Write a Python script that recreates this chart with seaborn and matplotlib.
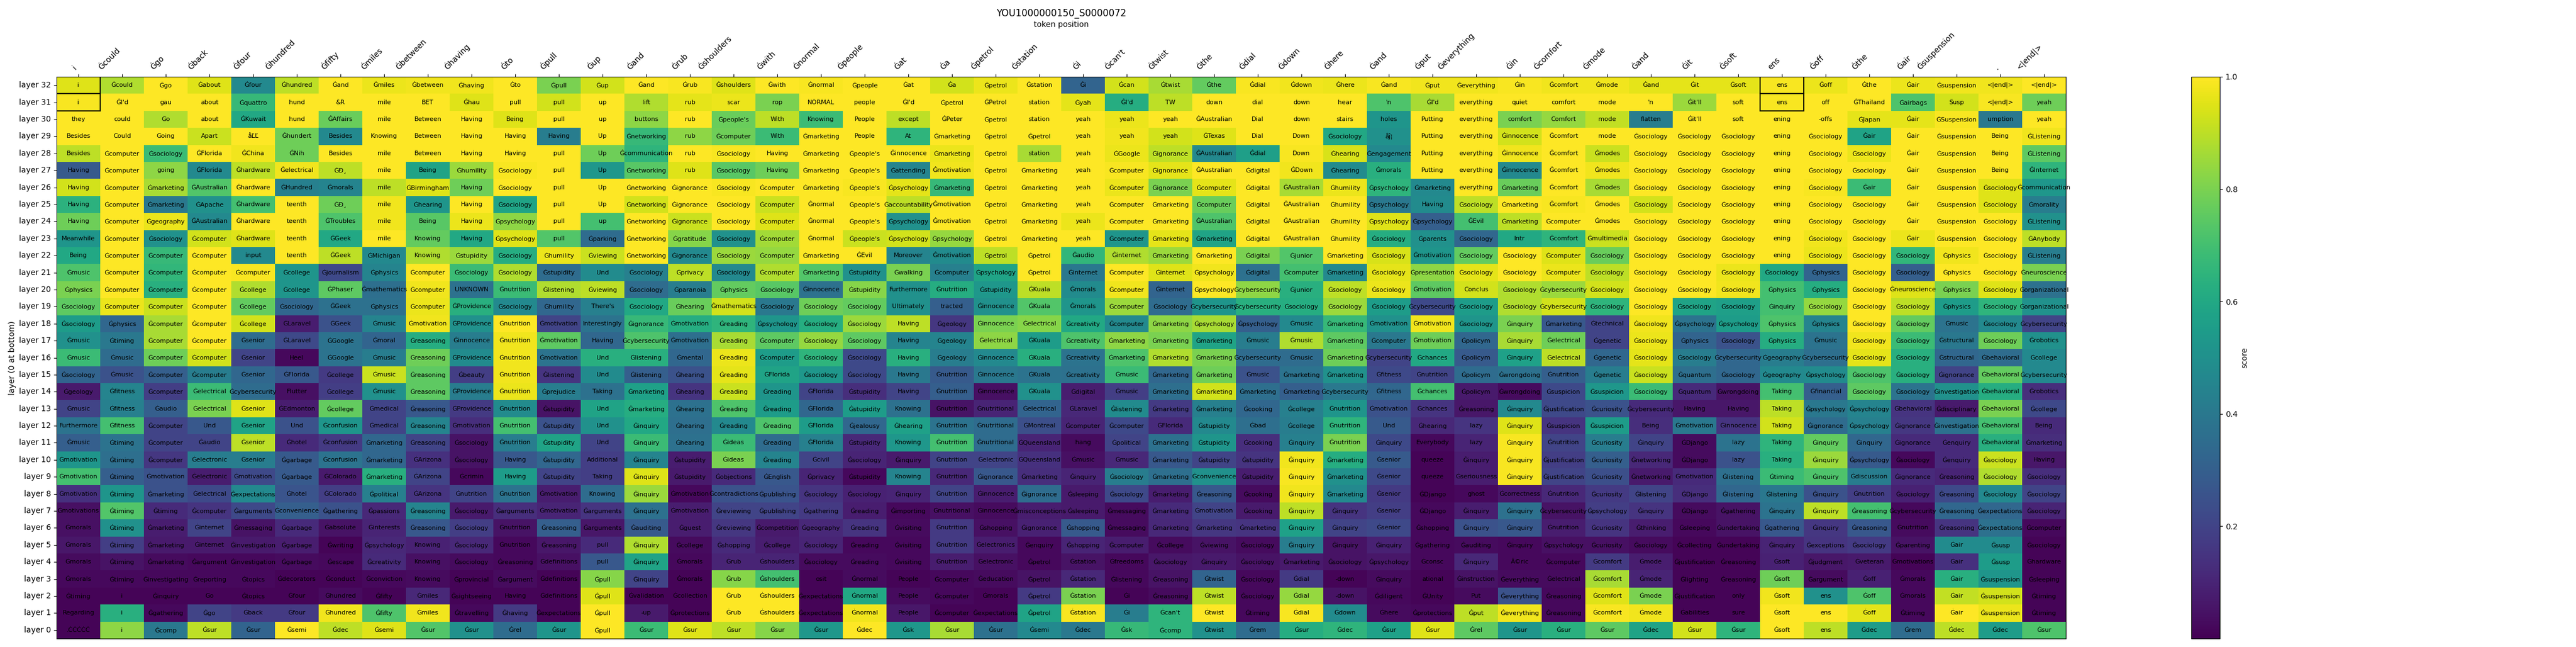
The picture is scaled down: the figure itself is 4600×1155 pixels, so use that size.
import numpy as np
import pandas as pd
import matplotlib
matplotlib.use("Agg")
import matplotlib.pyplot as plt
import seaborn as sns
from matplotlib.patches import Rectangle

TITLE = "YOU1000000150_S0000072"

# tick labels along the top
col_tokens = "i Ġcould Ġgo Ġback Ġfour Ġhundred Ġfifty Ġmiles Ġbetween Ġhaving Ġto Ġpull Ġup Ġand Ġrub Ġshoulders Ġwith Ġnormal Ġpeople Ġat Ġa Ġpetrol Ġstation Ġi Ġcan't Ġtwist Ġthe Ġdial Ġdown Ġhere Ġand Ġput Ġeverything Ġin Ġcomfort Ġmode Ġand Ġit Ġsoft ens Ġoff Ġthe Ġair Ġsuspension . <|end|>".split()

# top token per layer / cell
tok_32 = "i Ġcould Ġgo Ġabout Ġfour Ġhundred Ġand Ġmiles Ġbetween Ġhaving Ġto Ġpull Ġup Ġand Ġrub Ġshoulders Ġwith Ġnormal Ġpeople Ġat Ġa Ġpetrol Ġstation Ġi Ġcan Ġtwist Ġthe Ġdial Ġdown Ġhere Ġand Ġput Ġeverything Ġin Ġcomfort Ġmode Ġand Ġit Ġsoft ens Ġoff Ġthe Ġair Ġsuspension <|end|> <|end|>".split()
tok_31 = "i ĠI'd gau about Ġquattro hund &R mile BET Ġhau pull pull up lift rub scar rop NORMAL people ĠI'd Ġpetrol ĠPetrol station Ġyah ĠI'd TW down dial down hear 'n ĠI'd everything quiet comfort mode 'n Ġit'll soft ens off ĠThailand Ġairbags Susp <|end|> yeah".split()
tok_30 = "they could Go about ĠKuwait hund ĠAffairs mile Between Having Being pull up buttons rub Ġpeople's With Knowing People except ĠPeter Ġpetrol station yeah yeah yeah ĠAustralian Dial down stairs holes Putting everything comfort Comfort mode flatten Ġit'll soft ening -offs ĠJapan Ġair ĠSuspension umption yeah".split()
tok_29 = "Besides Could Going Apart åĽĽ Ġhundert Besides Knowing Between Having Having Having Up Ġnetworking rub Ġcomputer With Ġmarketing People At Ġmarketing Ġpetrol Ġpetrol yeah yeah yeah ĠTexas Dial Down Ġsociology åĵ¦ Putting everything Ġinnocence Ġcomfort mode Ġsociology Ġsociology Ġsociology ening Ġsociology Ġair Ġair Ġsuspension Being ĠListening".split()
tok_28 = "Besides Ġcomputer Ġsociology ĠFlorida ĠChina ĠNih Besides mile Between Having Having pull Up Ġcommunication rub Ġsociology Having Ġmarketing Ġpeople's Ġinnocence Ġmarketing Ġpetrol station yeah ĠGoogle Ġignorance ĠAustralian Ġdial Down Ġhearing Ġengagement Putting everything Ġinnocence Ġcomfort Ġmodes Ġsociology Ġsociology Ġsociology ening Ġsociology Ġsociology Ġair Ġsuspension Being ĠListening".split()
tok_27 = "Having Ġcomputer going ĠFlorida Ġhardware Ġelectrical ĠÐ¸ mile Being Ġhumility Ġsociology pull Up Ġnetworking rub Ġsociology Having Ġmarketing Ġpeople's Ġattending Ġmotivation Ġpetrol Ġmarketing yeah Ġcomputer Ġignorance ĠAustralian Ġdigital ĠDown Ġhearing Ġmorals Putting everything Ġinnocence Ġcomfort Ġmodes Ġsociology Ġsociology Ġsociology ening Ġsociology Ġsociology Ġair Ġsuspension Being ĠInternet".split()
tok_26 = "Having Ġcomputer Ġmarketing ĠAustralian Ġhardware ĠHundred Ġmorals mile ĠBirmingham Having Ġsociology pull Up Ġnetworking Ġignorance Ġsociology Ġcomputer Ġmarketing Ġpeople's Ġpsychology Ġmarketing Ġpetrol Ġmarketing yeah Ġcomputer Ġignorance Ġcomputer Ġdigital ĠAustralian Ġhumility Ġpsychology Ġmarketing everything Ġmarketing Ġcomfort Ġmodes Ġsociology Ġsociology Ġsociology ening Ġsociology Ġair Ġair Ġsuspension Ġsociology Ġcommunication".split()
tok_25 = "Having Ġcomputer Ġmarketing ĠApache Ġhardware teenth ĠÐ¸ mile Ġhearing Having Ġsociology pull Up Ġnetworking Ġignorance Ġsociology Ġcomputer Ġnormal Ġpeople's Ġaccountability Ġmotivation Ġpetrol Ġmarketing yeah Ġcomputer Ġmarketing Ġcomputer Ġdigital ĠAustralian Ġhumility Ġpsychology Having Ġsociology Ġmarketing Ġcomfort Ġmodes Ġsociology Ġsociology Ġsociology ening Ġsociology Ġsociology Ġair Ġsuspension Ġsociology Ġmorality".split()
tok_24 = "Having Ġcomputer Ġgeography ĠAustralian Ġhardware teenth ĠTroubles mile Being Having Ġpsychology pull up Ġnetworking Ġignorance Ġsociology Ġcomputer Ġnormal Ġpeople's Ġpsychology Ġmotivation Ġpetrol Ġmarketing yeah Ġcomputer Ġmarketing ĠAustralian Ġdigital ĠAustralian Ġhumility Ġpsychology Ġpsychology ĠEvil Ġmarketing Ġcomputer Ġmodes Ġsociology Ġsociology Ġsociology ening Ġsociology Ġsociology Ġair Ġsuspension Ġsociology ĠListening".split()
tok_23 = "Meanwhile Ġcomputer Ġsociology Ġcomputer Ġhardware teenth ĠGeek mile Knowing Having Ġpsychology pull Ġparking Ġnetworking Ġgratitude Ġsociology Ġcomputer Ġnormal Ġpeople's Ġpsychology Ġpsychology Ġpetrol Ġmarketing yeah Ġcomputer Ġmarketing Ġmarketing Ġdigital ĠAustralian Ġhumility Ġsociology Ġparents Ġsociology Intr Ġcomfort Ġmultimedia Ġsociology Ġsociology Ġsociology ening Ġsociology Ġsociology Ġair Ġsuspension Ġsociology ĠAnybody".split()
tok_22 = "Being Ġcomputer Ġcomputer Ġcomputer input teenth ĠGeek ĠMichigan Knowing Ġstupidity Ġsociology Ġhumility Ġviewing Ġnetworking Ġignorance Ġsociology Ġcomputer Ġmarketing ĠEvil Moreover Ġmotivation Ġpetrol Ġpetrol Ġaudio Ġinternet Ġmarketing Ġmarketing Ġdigital Ġjunior Ġmarketing Ġsociology Ġmotivation Ġsociology Ġsociology Ġcomputer Ġsociology Ġsociology Ġsociology Ġsociology ening Ġsociology Ġsociology Ġsociology Ġphysics Ġsociology ĠListening".split()
tok_21 = "Ġmusic Ġcomputer Ġcomputer Ġcomputer Ġcomputer Ġcollege Ġjournalism Ġphysics Ġcomputer Ġsociology Ġsociology Ġstupidity Und Ġsociology Ġprivacy Ġsociology Ġcomputer Ġmarketing Ġstupidity Ġwalking Ġcomputer Ġpsychology Ġpetrol Ġinternet Ġcomputer Ġinternet Ġpsychology Ġdigital Ġcomputer Ġmarketing Ġsociology Ġpresentation Ġsociology Ġsociology Ġcomputer Ġsociology Ġsociology Ġsociology Ġsociology Ġsociology Ġphysics Ġsociology Ġsociology Ġphysics Ġsociology Ġneuroscience".split()
tok_20 = "Ġphysics Ġcomputer Ġcomputer Ġcomputer Ġcollege Ġcollege ĠPhaser Ġmathematics Ġcomputer UNKNOWN Ġnutrition Ġlistening Ġviewing Ġsociology Ġparanoia Ġphysics Ġsociology Ġinnocence Ġstupidity Furthermore Ġnutrition Ġstupidity ĠKuala Ġmorals Ġcomputer Ġinternet Ġpsychology Ġcybersecurity Ġjunior Ġsociology Ġsociology Ġmotivation Conclus Ġsociology Ġcybersecurity Ġsociology Ġsociology Ġsociology Ġsociology Ġphysics Ġphysics Ġsociology Ġneuroscience Ġphysics Ġsociology Ġorganizational".split()
tok_19 = "Ġsociology Ġcomputer Ġcomputer Ġcomputer Ġcollege Ġsociology ĠGeek Ġphysics Ġcomputer ĠProvidence Ġsociology Ġhumility There's Ġsociology Ġhearing Ġmathematics Ġsociology Ġsociology Ġsociology Ultimately tracted Ġinnocence ĠKuala Ġmorals Ġcomputer Ġsociology Ġcybersecurity Ġcybersecurity Ġsociology Ġsociology Ġsociology Ġcybersecurity Ġsociology Ġsociology Ġcybersecurity Ġsociology Ġsociology Ġsociology Ġsociology Ġinquiry Ġsociology Ġsociology Ġsociology Ġphysics Ġsociology Ġorganizational".split()
tok_18 = "Ġsociology Ġphysics Ġcomputer Ġcomputer Ġcollege ĠLaravel ĠGeek Ġmusic Ġmotivation ĠProvidence Ġnutrition Ġmotivation Interestingly Ġignorance Ġmotivation Ġreading Ġpsychology Ġsociology Ġsociology Having Ġgeology Ġinnocence Ġelectrical Ġcreativity Ġcomputer Ġmarketing Ġpsychology Ġpsychology Ġmusic Ġmarketing Ġmotivation Ġmotivation Ġsociology Ġinquiry Ġmarketing Ġtechnical Ġsociology Ġpsychology Ġpsychology Ġphysics Ġphysics Ġsociology Ġsociology Ġmusic Ġsociology Ġcybersecurity".split()
tok_17 = "Ġmusic Ġtiming Ġcomputer Ġcomputer Ġsenior ĠLaravel ĠGoogle Ġmoral Ġreasoning Ġinnocence Ġnutrition Ġmotivation Having Ġcybersecurity Ġmotivation Ġreading Ġcomputer Ġsociology Ġsociology Having Ġgeology Ġelectrical ĠKuala Ġcreativity Ġmarketing Ġmarketing Ġmarketing Ġmusic Ġmusic Ġmarketing Ġcomputer Ġmotivation Ġpolicym Ġinquiry Ġelectrical Ġgenetic Ġsociology Ġphysics Ġsociology Ġphysics Ġmusic Ġsociology Ġsociology Ġstructural Ġsociology Ġrobotics".split()
tok_16 = "Ġmusic Ġmusic Ġcomputer Ġcomputer Ġsenior Heel ĠGoogle Ġmusic Ġreasoning ĠProvidence Ġnutrition Ġmotivation Und Ġlistening Ġmental Ġreading Ġcomputer Ġsociology Ġsociology Having Ġgeology Ġinnocence ĠKuala Ġcreativity Ġmarketing Ġmarketing Ġmarketing Ġcybersecurity Ġmusic Ġmarketing Ġcybersecurity Ġchances Ġpolicym Ġinquiry Ġelectrical Ġgenetic Ġsociology Ġsociology Ġcybersecurity Ġgeography Ġcybersecurity Ġsociology Ġsociology Ġstructural Ġbehavioral Ġcollege".split()
tok_15 = "Ġsociology Ġmusic Ġcomputer Ġcomputer Ġsenior ĠFlorida Ġcollege Ġmusic Ġreasoning Ġbeauty Ġnutrition Ġlistening Und Ġlistening Ġhearing Ġreading ĠFlorida Ġsociology Ġsociology Having Ġnutrition Ġinnocence ĠKuala Ġcreativity Ġmusic Ġmarketing Ġmarketing Ġmusic Ġmarketing Ġmarketing Ġfitness Ġnutrition Ġpolicym Ġwrongdoing Ġnutrition Ġgenetic Ġsociology Ġquantum Ġsociology Ġgeography Ġpsychology Ġsociology Ġsociology Ġignorance Ġbehavioral Ġcybersecurity".split()
tok_14 = "Ġgeology Ġfitness Ġcomputer Ġelectrical Ġcybersecurity Flutter Ġcollege Ġmusic Ġreasoning ĠProvidence Ġnutrition Ġprejudice Taking Ġmarketing Ġhearing Ġreading Ġreading ĠFlorida Ġstupidity Having Ġnutrition Ġinnocence ĠKuala Ġdigital Ġmusic Ġmarketing Ġmarketing Ġmarketing Ġmarketing Ġcybersecurity Ġfitness Ġchances Ġpolicym Ġwrongdoing Ġsuspicion Ġsuspicion Ġsociology Ġquantum Ġwrongdoing Taking Ġfinancial Ġsociology Ġsociology Ġinvestigation Ġbehavioral Ġrobotics".split()
tok_13 = "Ġmusic Ġfitness Ġaudio Ġelectrical Ġsenior ĠEdmonton Ġcollege Ġmedical Ġreasoning ĠProvidence Ġnutrition Ġstupidity Und Ġmarketing Ġhearing Ġreading Ġreading ĠFlorida Ġstupidity Knowing Ġnutrition Ġnutritional Ġelectrical ĠLaravel Ġlistening Ġmarketing Ġmarketing Ġcooking Ġcollege Ġnutrition Ġmotivation Ġchances Ġreasoning Ġinquiry Ġjustification Ġcuriosity Ġcybersecurity Having Having Taking Ġpsychology Ġpsychology Ġbehavioral Ġdisciplinary Ġbehavioral Ġcollege".split()
tok_12 = "Furthermore Ġfitness Ġcomputer Und Ġsenior Und Ġconfusion Ġmedical Ġreasoning Ġmotivation Ġnutrition Ġstupidity Und Ġinquiry Ġhearing Ġreading Ġreading ĠFlorida Ġjealousy Ġhearing Ġnutrition Ġnutritional ĠMontreal Ġcomputer Ġcomputer ĠFlorida Ġstupidity Ġbad Ġcollege Ġnutrition Und Ġhearing lazy Ġinquiry Ġsuspicion Ġsuspicion Being Ġmotivation Ġinnocence Taking Ġignorance Ġpsychology Ġignorance Ġinvestigation Ġbehavioral Being".split()
tok_11 = "Ġmusic Ġtiming Ġcomputer Ġaudio Ġsenior Ġhotel Ġconfusion Ġmarketing Ġreasoning Ġsociology Ġnutrition Ġstupidity Und Ġinquiry Ġhearing Ġideas Ġreading ĠFlorida Ġstupidity Knowing Ġnutrition Ġnutritional ĠQueensland hang Ġpolitical Ġmarketing Ġstupidity Ġcooking Ġinquiry Ġnutrition Ġinquiry Everybody lazy Ġinquiry Ġnutrition Ġcuriosity Ġinquiry ĠDjango lazy Taking Ġinquiry Ġinquiry Ġignorance Ġenquiry Ġbehavioral Ġmarketing".split()
tok_10 = "Ġmotivation Ġtiming Ġcomputer Ġelectronic Ġsenior Ġgarbage Ġconfusion Ġmarketing ĠArizona Ġsociology Having Ġstupidity Additional Ġinquiry Ġstupidity Ġideas Ġreading Ġcivil Ġsociology Ġinquiry Ġnutrition Ġelectronic ĠQueensland Ġmusic Ġmusic Ġmarketing Ġstupidity Ġstupidity Ġinquiry Ġmarketing Ġsenior queeze Ġinquiry Ġinquiry Ġjustification Ġcuriosity Ġnetworking ĠDjango lazy Taking Ġinquiry Ġpsychology Ġsociology Ġenquiry Ġsociology Having".split()
tok_9 = "Ġmotivation Ġtiming Ġmotivation Ġelectronic Ġmotivation Ġgarbage ĠColorado Ġmarketing ĠArizona Ġcrimin Having Ġstupidity Taking Ġinquiry Ġstupidity Ġobjections ĠEnglish Ġprivacy Ġstupidity Knowing Ġnutrition Ġignorance Ġmarketing Ġinquiry Ġsociology Ġmarketing Ġconvenience Ġstupidity Ġinquiry Ġmarketing Ġsenior queeze Ġseriousness Ġinquiry Ġjustification Ġcuriosity Ġnetworking Ġmotivation Ġlistening Ġtiming Ġinquiry Ġdiscussion Ġignorance Ġreasoning Ġsociology Ġsociology".split()
tok_8 = "Ġmotivation Ġtiming Ġmarketing Ġelectrical Ġexpectations Ġhotel ĠColorado Ġpolitical ĠArizona Ġnutrition Ġnutrition Ġmotivation Knowing Ġinquiry Ġmotivation Ġcontradictions Ġpublishing Ġsociology Ġsociology Ġinquiry Ġnutrition Ġinnocence Ġignorance Ġsleeping Ġsociology Ġmarketing Ġreasoning Ġcooking Ġinquiry Ġmarketing Ġsenior ĠDjango ghost Ġcorrectness Ġnutrition Ġcuriosity Ġlistening ĠDjango Ġlistening Ġlistening Ġinquiry Ġnutrition Ġsociology Ġreasoning Ġsociology Ġsociology".split()
tok_7 = "Ġmotivations Ġtiming Ġtiming Ġcomputer Ġarguments Ġconvenience Ġgathering Ġpassions Ġreasoning Ġsociology Ġarguments Ġmotivation Ġarguments Ġinquiry Ġmotivation Ġreviewing Ġpublishing Ġgathering Ġreading Ġimporting Ġnutritional Ġinnocence Ġmisconceptions Ġsleeping Ġmessaging Ġmarketing Ġmotivation Ġcooking Ġinquiry Ġinquiry Ġsenior ĠDjango Ġinquiry Ġinquiry Ġcybersecurity Ġpsychology Ġinquiry ĠDjango Ġgathering Ġinquiry Ġinquiry Ġreasoning Ġcybersecurity Ġreasoning Ġexpectations Ġsociology".split()
tok_6 = "Ġmorals Ġtiming Ġmarketing Ġinternet Ġmessaging Ġgarbage Ġabsolute Ġinterests Ġreasoning Ġsociology Ġnutrition Ġreasoning Ġarguments Ġauditing Ġguest Ġreviewing Ġcompetition Ġgeography Ġreading Ġvisiting Ġnutrition Ġshopping Ġignorance Ġshopping Ġmessaging Ġmarketing Ġmarketing Ġmarketing Ġinquiry Ġinquiry Ġsenior Ġshopping Ġinquiry Ġinquiry Ġnutrition Ġcuriosity Ġthinking Ġsleeping Ġundertaking Ġgathering Ġinquiry Ġreasoning Ġnutrition Ġreasoning Ġexpectations Ġcomputer".split()
tok_5 = "Ġmorals Ġtiming Ġmarketing Ġinternet Ġinvestigation Ġgarbage Ġwriting Ġpsychology Knowing Ġsociology Ġnutrition Ġreasoning pull Ġinquiry Ġcollege Ġshopping Ġcollege Ġsociology Ġreading Ġvisiting Ġnutrition Ġelectronics Ġenquiry Ġshopping Ġcomputer Ġcollege Ġviewing Ġsociology Ġinquiry Ġinquiry Ġinquiry Ġgathering Ġauditing Ġinquiry Ġpsychology Ġcuriosity Ġsociology Ġcollecting Ġundertaking Ġinquiry Ġexceptions Ġsociology Ġparenting Ġair Ġsusp Ġsociology".split()
tok_4 = "Ġmorals Ġtiming Ġmarketing Ġargument Ġinvestigation Ġgarbage Ġescape Ġcreativity Knowing Ġsociology Ġreasoning Ġdefinitions pull Ġinquiry Ġmorals Ġrub Ġshoulders Ġsociology Ġreading Ġvisiting Ġnutrition Ġelectronic Ġpetrol Ġstation Ġfreedoms Ġsociology Ġinquiry Ġsociology Ġmarketing Ġsociology Ġpsychology Ġconsc Ġinquiry Ã©ric Ġcomputer Ġcomfort Ġmode Ġjustification Ġreasoning Ġsoft Ġjudgment Ġveteran Ġmotivations Ġair Ġsusp Ġhardware".split()
tok_3 = "Ġmorals Ġtiming Ġinvestigating Ġreporting Ġtopics Ġdecorators Ġconduct Ġconviction Knowing Ġprovincial Ġargument Ġdefinitions Ġpull Ġinquiry Ġmorals Ġrub Ġshoulders osit Ġnormal People Ġcomputer Ġeducation Ġpetrol Ġstation Ġlistening Ġreasoning Ġtwist Ġsociology Ġdial -down Ġinquiry ational Ġinstruction Ġeverything Ġelectrical Ġcomfort Ġmode Ġlighting Ġreasoning Ġsoft Ġargument Ġoff Ġmorals Ġair Ġsuspension Ġsleeping".split()
tok_2 = "Ġtiming i Ġinquiry Go Ġtopics Ġfour Ġhundred Ġfifty Ġmiles Ġsightseeing Having Ġdefinitions Ġpull Ġvalidation Ġcollection Ġrub Ġshoulders Ġexpectations Ġnormal People Ġcomputer Ġmorals Ġpetrol Ġstation Ġi Ġreasoning Ġtwist Ġsociology Ġdial -down Ġdiligent ĠUnity Put Ġeverything Ġreasoning Ġcomfort Ġmode Ġjustification only Ġsoft ens Ġoff Ġmorals Ġair Ġsuspension Ġtiming".split()
tok_1 = "Regarding i Ġgathering Ġgo Ġback Ġfour Ġhundred Ġfifty Ġmiles Ġtravelling Ġhaving Ġexpectations Ġpull -up Ġprotections Ġrub Ġshoulders Ġexpectations Ġnormal People Ġcomputer Ġexpectations Ġpetrol Ġstation Ġi Ġcan't Ġtwist Ġtiming Ġdial Ġdown Ġhere Ġprotections Ġput Ġeverything Ġreasoning Ġcomfort Ġmode Ġabilities sure Ġsoft ens Ġoff Ġtiming Ġair Ġsuspension Ġtiming".split()
tok_0 = ".ĊĊĊĊĊ i Ġcomp Ġsur Ġsur Ġsemi Ġdec Ġsemi Ġsur Ġsur Ġrel Ġsur Ġpull Ġsur Ġsur Ġsur Ġsur Ġsur Ġdec Ġsk Ġsur Ġsur Ġsemi Ġdec Ġsk Ġcomp Ġtwist Ġrem Ġsur Ġdec Ġsur Ġsur Ġrel Ġsur Ġsur Ġsur Ġdec Ġsur Ġsur Ġsoft ens Ġdec Ġrem Ġdec Ġdec Ġsur".split()

# score of that token per layer
sc_32 = [.95,.88,1,.95,.47,.9,1,.97,.98,.98,1,.8,.93,1,.99,.95,1,.99,1,1,.93,.97,1,.32,.93,.87,.76,.99,.98,.97,.99,.98,.98,.99,.98,.98,.96,.96,.96,.99,.97,1,.97,.98,.98,1]
sc_31 = [.99,1,1,1,.67,1,1,1,1,.95,1,.93,1,.88,.96,.97,.8,1,1,1,1,1,1,.96,.62,.9,1,1,1,1,.72,.87,1,1,1,1,1,.85,1,.99,1,1,.72,.93,.99,.78]
sc_30 = [1,1,.88,1,.6,1,.77,1,1,1,.95,1,1,.83,1,.77,.9,.68,1,.9,1,1,1,1,.97,1,1,1,1,1,.52,1,1,.8,.84,.91,.42,1,1,1,1,.96,.96,.99,.4,1]
sc_29 = [1,1,1,.92,1,.78,.47,1,1,1,1,.42,1,.67,.83,.78,.68,1,1,.65,1,1,1,1,.98,.93,.95,1,1,.6,.5,1,1,.93,1,1,1,1,1,1,1,.58,1,1,1,.98]
sc_28 = [.9,1,.68,1,.98,.78,1,1,1,1,1,1,.78,.65,1,.99,1,1,1,1,.97,1,.87,1,.97,.9,.47,.56,.99,.94,.47,1,1,.98,1,.92,1,1,1,1,1,.97,1,1,1,.75]
sc_27 = [.28,1,.83,.47,.9,.98,.9,1,.58,.85,.99,1,.53,.74,.95,.74,.78,1,1,.45,.98,1,1,1,.99,.96,1,1,.98,.48,.63,1,1,.47,1,.98,1,1,1,1,1,1,1,1,1,.65]
sc_26 = [.93,1,.87,.73,1,.43,.45,.9,.95,.78,1,1,1,1,1,.99,1,1,.99,.96,.67,1,1,1,.97,.8,.96,1,.87,.97,.65,.47,1,.77,1,.87,1,1,1,1,.99,.68,1,1,.95,.53]
sc_25 = [.64,1,.4,.5,.7,1,.78,.98,.52,1,.58,1,1,.93,1,1,.92,1,1,.9,1,1,1,1,1,1,.77,1,1,1,.4,.48,.9,1,.99,1,.93,1,1,1,1,1,1,1,.95,.42]
sc_24 = [.78,1,.97,.47,1,1,.72,.98,.74,.97,.83,1,.7,1,.92,1,.95,1,1,.5,1,1,1,.97,1,1,.72,1,1,1,.95,.3,.7,.9,1,1,1,1,1,1,1,1,1,1,1,.5]
sc_23 = [.52,1,.5,.93,.95,1,.6,1,.76,.6,.95,.73,.35,1,.82,.5,.86,1,.92,.93,.84,1,1,1,.52,.96,.58,1,1,1,.62,.5,.33,.6,.65,.92,1,1,1,1,.98,1,.97,1,1,.9]
sc_22 = [.6,1,.67,1,.47,1,.9,.47,.88,.85,.62,.97,.92,1,.47,.85,.84,1,1,.45,.48,.9,1,.66,.88,.85,1,.8,.73,1,.94,.52,.76,1,.95,.77,1,1,1,1,.97,1,.66,.98,1,.42]
sc_21 = [.72,1,.66,1,.99,.52,.22,.45,1,.68,.88,.35,.48,.43,.9,.47,.88,.73,.5,.8,.43,.58,1,.4,1,.95,.98,.37,.7,.47,.96,.83,.96,1,.97,.9,1,1,.97,.6,.32,1,.3,1,1,.8]
sc_20 = [.8,1,.63,1,.88,.52,.75,.36,.98,.37,.68,.88,.9,.35,.42,.76,.74,.37,.82,.5,.62,.53,.9,.48,.98,.32,1,.83,.63,.9,.97,.75,.93,.88,.85,.93,1,1,.98,.7,.62,1,.95,.8,.95,.37]
sc_19 = [.75,.97,.92,1,.76,.33,.37,.37,.97,.63,.47,.33,.43,.6,.77,.93,.4,.78,.76,.5,.3,.5,.73,.52,.85,.35,.52,.63,.62,.85,.55,.22,.55,.88,.93,.65,1,.58,.56,.7,.84,1,.9,.55,.65,.5]
sc_18 = [.55,.33,.87,1,.93,.08,.25,.45,.98,.5,1,.2,.38,.67,.62,.65,.52,.62,.85,.9,.16,.8,.82,.6,.47,.83,.87,.3,.47,.67,.5,.98,.52,.8,.27,.2,.98,.38,.55,.72,.45,1,.76,.38,.47,.2]
sc_17 = [.5,.4,.87,1,.35,.22,.38,.32,.62,.42,.98,.75,.33,.72,.36,.87,.75,.84,.75,.45,.45,.83,.55,.72,.83,.8,.58,.42,.88,.75,.4,.78,.33,.87,.78,.2,.97,.32,.25,.62,.38,.98,.68,.4,.78,.5]
sc_16 = [.68,.35,.78,.93,.2,.02,.38,.42,.78,.48,.98,.38,.63,.63,.33,.97,.55,.65,.22,.63,.42,.47,.63,.38,.72,.88,.8,.35,.35,.78,.2,.6,.28,.57,.9,.33,.96,.42,.33,.42,.36,.96,.63,.33,.35,.47]
sc_15 = [.32,.25,.3,.42,.33,.27,.17,.92,.75,.18,.98,.15,.48,.3,.25,.96,.58,.53,.22,.4,.28,.4,.38,.37,.68,.33,.78,.25,.38,.5,.22,.2,.35,.37,.3,.42,.92,.36,.33,.47,.48,.72,.63,.2,.76,.47]
sc_14 = [.07,.45,.18,.68,.35,.04,.18,.5,.75,.42,.97,.42,.37,.57,.15,.92,.52,.2,.13,.2,.3,.04,.5,.08,.18,.36,.93,.36,.3,.4,.33,.7,.07,.03,.22,.53,.68,.12,.05,.7,.3,.75,.38,.5,.62,.13]
sc_13 = [.2,.43,.3,.8,.95,.08,.76,.2,.27,.17,.48,.05,.58,.62,.37,.72,.55,.33,.55,.37,.05,.1,.32,.11,.48,.17,.43,.33,.43,.52,.25,.15,.06,.47,.22,.25,.12,.06,.06,.9,.4,.45,.15,.07,.8,.22]
sc_12 = [.38,.7,.2,.27,.58,.25,.52,.2,.45,.13,.7,.25,.5,.6,.36,.47,.72,.55,.33,.57,.38,.35,.24,.1,.22,.12,.47,.36,.42,.65,.28,.11,.15,.95,.15,.55,.13,.4,.15,.93,.35,.43,.16,.37,.7,.12]
sc_11 = [.3,.38,.2,.2,.9,.12,.17,.33,.2,.05,.42,.58,.2,.68,.37,.68,.35,.43,.11,.53,.7,.35,.1,.03,.2,.37,.52,.13,.43,.8,.22,.02,.1,.99,.2,.42,.2,.03,.38,.65,.76,.33,.12,.12,.63,.13]
sc_10 = [.52,.36,.16,.42,.42,.28,.38,.33,.14,.05,.27,.33,.18,.45,.08,.8,.45,.2,.1,.07,.2,.2,.14,.04,.11,.27,.2,.15,.98,.62,.28,.01,.08,.99,.18,.3,.11,.03,.25,.63,.85,.28,.02,.12,.92,.06]
sc_9 = [.7,.3,.25,.08,.22,.28,.07,.63,.2,.02,.55,.2,.18,.95,.07,.12,.27,.1,.02,.45,.11,.27,.13,.1,.42,.36,.5,.08,.99,.5,.22,.01,.08,.99,.2,.24,.07,.12,.36,.68,.72,.42,.12,.1,.88,.13]
sc_8 = [.14,.52,.25,.22,.47,.26,.18,.43,.15,.2,.38,.08,.35,.85,.02,.25,.26,.15,.09,.1,.2,.08,.35,.07,.22,.08,.27,.03,.98,.47,.17,.01,.02,.06,.11,.17,.2,.13,.33,.4,.25,.18,.09,.22,.47,.2]
sc_7 = [.04,.73,.12,.15,.22,.3,.25,.11,.45,.07,.13,.1,.15,.37,.08,.2,.2,.17,.08,.02,.04,.03,.08,.07,.03,.12,.2,.07,.9,.15,.18,.02,.08,.37,.05,.18,.15,.03,.05,.38,.9,.7,.02,.33,.33,.1]
sc_6 = [.04,.5,.08,.2,.05,.12,.05,.1,.27,.18,.05,.3,.06,.28,.08,.16,.07,.11,.15,.03,.17,.04,.09,.28,.03,.11,.16,.15,.57,.2,.22,.02,.25,.27,.08,.15,.08,.02,.05,.27,.16,.27,.03,.15,.37,.02]
sc_5 = [.06,.18,.07,.07,.07,.08,.01,.11,.09,.11,.02,.06,.12,.88,.03,.12,.08,.1,.02,.02,.17,.08,.02,.1,.08,.03,.05,.03,.42,.05,.09,.02,.03,.02,.04,.04,.03,.01,.01,.1,.15,.17,.05,.48,.48,.01]
sc_4 = [.03,.05,.03,.02,.02,.03,.02,.12,.04,.03,.02,.04,.27,.58,.02,.1,.1,.03,.03,.02,.08,.04,.02,.05,.02,.06,.07,.05,.07,.05,.06,.02,.11,.02,.02,.17,.08,.01,.01,.09,.06,.07,.01,.14,.55,.01]
sc_3 = [.02,.02,.02,.02,.02,.01,.01,.02,.03,.01,.03,.01,.82,.2,.01,.82,.7,.01,.03,.01,.02,.03,.05,.11,.02,.05,.32,.02,.17,.01,.03,.01,.05,.03,.03,.87,.1,.01,.01,.78,.03,.09,.02,.63,.52,.01]
sc_2 = [.01,.01,.01,.01,.01,.01,.03,.01,.11,.01,.01,.01,.95,.01,.01,1,1,.01,.6,.03,.02,.01,.17,.8,.01,.03,.9,.02,.84,.05,.02,.01,.03,.25,.02,.95,.8,.01,.01,.98,.5,.72,.02,.91,.93,.01]
sc_1 = [.01,.63,.02,.2,.17,.17,.98,.72,.98,.02,.17,.01,1,.07,.01,1,1,.01,.98,.06,.01,.01,.58,.99,.42,.65,1,.02,.99,.48,.03,.02,.9,.98,.02,.99,.98,.01,.01,1,1,.96,.02,1,.97,.01]
sc_0 = [.01,.83,.4,.9,.32,1,.9,.95,.73,.5,.35,.52,1,.68,.95,.9,.82,.53,1,.53,.87,.37,.47,.4,.67,.65,.5,.35,.62,.65,.57,.95,.75,.52,.63,.75,.58,.93,.65,1,.9,.55,.35,.9,.55,.72]

# cells with a black box (layer, column)
box_cells = [(32, 0), (31, 0), (32, 39), (31, 39)]

layers = list(range(32, -1, -1))
ns = globals()
tokens = np.array([ns[f"tok_{l}"] for l in layers], dtype=object)
scores = pd.DataFrame([ns[f"sc_{l}"] for l in layers],
                      index=[f"layer {l}" for l in layers])

fig = plt.figure(figsize=(46, 11.55), dpi=100)
ax = fig.add_axes([101 / 4600, 15 / 1155, 3588 / 4600, 1003 / 1155])
cax = fig.add_axes([3913 / 4600, 15 / 1155, 51 / 4600, 1003 / 1155])

sns.heatmap(scores, ax=ax, cbar_ax=cax, cmap="viridis", vmin=0, vmax=1,
            annot=tokens, fmt="", annot_kws={"color": "black", "size": 8},
            xticklabels=col_tokens, yticklabels=True,
            cbar_kws={"label": "score", "ticks": [0.2, 0.4, 0.6, 0.8, 1.0]})

ax.xaxis.tick_top()
ax.xaxis.set_label_position("top")
ax.set_xlabel("token position")
ax.set_ylabel("layer (0 at bottom)")
ax.set_title(TITLE)
plt.setp(ax.get_xticklabels(), rotation=45, ha="right")
plt.setp(ax.get_yticklabels(), rotation=0)
for side in ax.spines.values():
    side.set_visible(True)

# seaborn hides the colorbar outline
cbar = ax.collections[0].colorbar
cbar.outline.set_linewidth(0.8)
cbar.outline.set_edgecolor("black")

for layer, col in box_cells:
    ax.add_patch(Rectangle((col, 32 - layer), 1, 1, fill=False, edgecolor="black", linewidth=1.5))

fig.savefig("out.png", dpi=100)
